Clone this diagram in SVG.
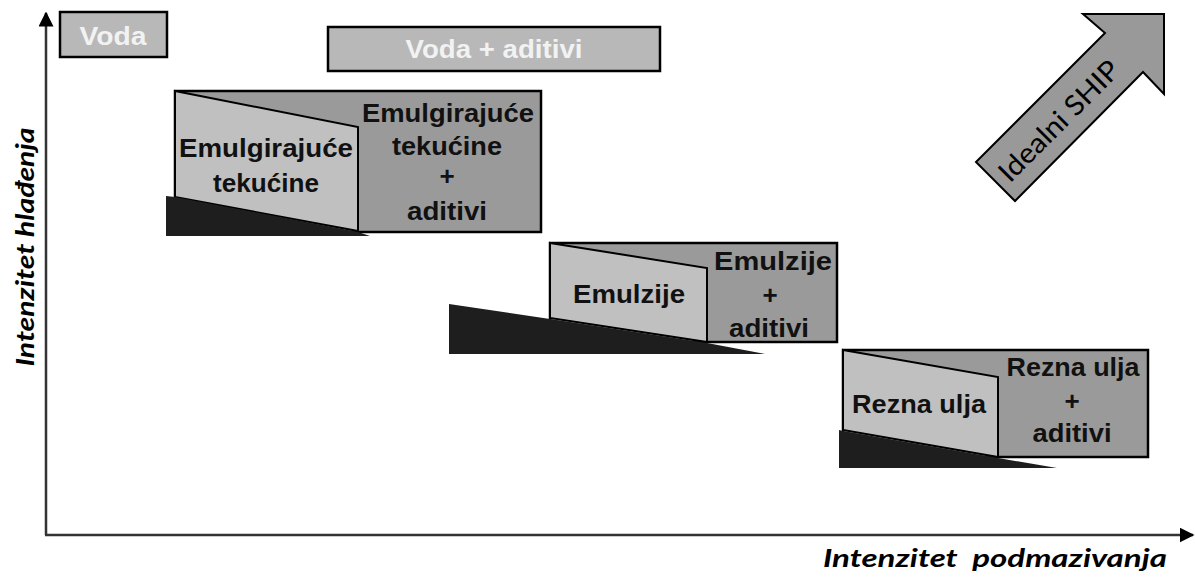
<svg xmlns="http://www.w3.org/2000/svg" width="1195" height="578" viewBox="0 0 1195 578">
<defs>
<style>
.box{stroke:#000;stroke-width:2.5}
.light{fill:#c0c0c0;stroke:#000;stroke-width:2}
.dark{fill:#9a9a9a}
.wedge{fill:#1e1e1e}
.t{font-family:"Liberation Sans",Arial,sans-serif;font-weight:bold;font-size:26px;fill:#111;text-anchor:middle}
.w{fill:#f2f2f2}
.ax{font-family:Lato,"Open Sans",sans-serif;font-weight:bold;font-style:italic;font-size:25px;fill:#000;text-anchor:middle}
.axis{stroke:#333;stroke-width:2.5;fill:none}
</style>
<marker id="ah" viewBox="0 0 10 10" refX="9" refY="5" markerWidth="6" markerHeight="6" markerUnits="strokeWidth" orient="auto">
<path d="M0,0 L10,5 L0,10 Z" fill="#000"/>
</marker>
</defs>
<rect width="1195" height="578" fill="#fff"/>

<g id="connectors">
<line class="axis" x1="46" y1="535" x2="46" y2="13" marker-end="url(#ah)"/>
<line class="axis" x1="45" y1="535" x2="1193" y2="535" marker-end="url(#ah)"/>
</g>

<g id="voda">
<rect class="box" x="60" y="12" width="107" height="45" fill="#b8b8b8"/>
<text class="t w" x="113" y="45" textLength="67" lengthAdjust="spacingAndGlyphs">Voda</text>
</g>

<g id="voda-aditivi">
<rect class="box" x="328" y="27" width="332" height="44" fill="#b8b8b8"/>
<text class="t w" x="494" y="58" textLength="177" lengthAdjust="spacingAndGlyphs">Voda + aditivi</text>
</g>

<g id="emulgirajuce">
<rect class="box dark" x="175" y="91" width="366" height="141"/>
<polygon class="light" points="175,91 358,127 358,231 175,197"/>
<polygon class="wedge" points="166,196 175,197 358,232 370,236 166,236"/>
<text class="t" x="266" y="157" textLength="174" lengthAdjust="spacingAndGlyphs">Emulgirajuće</text>
<text class="t" x="266" y="192" textLength="106" lengthAdjust="spacingAndGlyphs">tekućine</text>
<text class="t" x="448" y="122" textLength="172" lengthAdjust="spacingAndGlyphs">Emulgirajuće</text>
<text class="t" x="447" y="155" textLength="110" lengthAdjust="spacingAndGlyphs">tekućine</text>
<text class="t" x="447" y="185">+</text>
<text class="t" x="447" y="220" textLength="80" lengthAdjust="spacingAndGlyphs">aditivi</text>
</g>

<g id="emulzije">
<rect class="box dark" x="550" y="243" width="287" height="99"/>
<polygon class="light" points="550,243 707,268 707,342 550,318"/>
<polygon class="wedge" points="449,304 550,319 707,343 765,354 449,354"/>
<text class="t" x="629" y="303" textLength="112" lengthAdjust="spacingAndGlyphs">Emulzije</text>
<text class="t" x="773" y="270" textLength="118" lengthAdjust="spacingAndGlyphs">Emulzije</text>
<text class="t" x="770" y="304">+</text>
<text class="t" x="769" y="337" textLength="80" lengthAdjust="spacingAndGlyphs">aditivi</text>
</g>

<g id="rezna-ulja">
<rect class="box dark" x="843" y="350" width="305" height="107"/>
<polygon class="light" points="843,350 998,377 998,457 843,430"/>
<polygon class="wedge" points="839,430 843,431 998,458 1057,468 839,468"/>
<text class="t" x="919" y="413" textLength="134" lengthAdjust="spacingAndGlyphs">Rezna ulja</text>
<text class="t" x="1073" y="376" textLength="133" lengthAdjust="spacingAndGlyphs">Rezna ulja</text>
<text class="t" x="1072" y="410">+</text>
<text class="t" x="1072" y="442" textLength="79" lengthAdjust="spacingAndGlyphs">aditivi</text>
</g>

<g id="idealni-ship">
<polygon points="1105,33 976,162 1015,201 1143,72 1164,94 1164,14 1083,14" fill="#999" stroke="#000" stroke-width="2"/>
<text x="1058" y="120" transform="rotate(-45 1058 120)" font-family="Lato,'Open Sans',sans-serif" font-size="28" fill="#000" text-anchor="middle" dominant-baseline="central" textLength="158" lengthAdjust="spacingAndGlyphs">Idealni SHIP</text>
</g>

<g id="axis-labels">
<text class="ax" x="24" y="247" transform="rotate(-90 24 247)" dominant-baseline="central" textLength="239" lengthAdjust="spacingAndGlyphs">Intenzitet hlađenja</text>
<text class="ax" x="995" y="567" textLength="344" lengthAdjust="spacingAndGlyphs">Intenzitet&#160; podmazivanja</text>
</g>
</svg>
